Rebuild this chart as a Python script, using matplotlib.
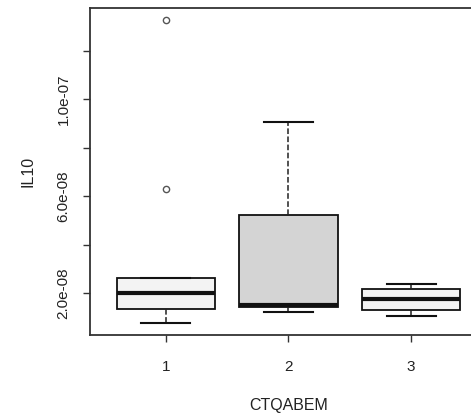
import matplotlib
matplotlib.use('Agg')
import matplotlib.pyplot as plt

plt.rcParams['font.family'] = ['Liberation Sans', 'DejaVu Sans']

# Werte aus dem Bild geschaetzt
gruppen = ['1', '2', '3']
q1 = [1.34e-8, 1.42e-8, 1.30e-8]
median = [2.00e-8, 1.50e-8, 1.75e-8]
q3 = [2.62e-8, 5.22e-8, 2.17e-8]
whis_lo = [0.76e-8, 1.21e-8, 1.05e-8]
whis_hi = [2.62e-8, 9.07e-8, 2.37e-8]
ausreisser = [[6.30e-8, 13.28e-8], [], []]
farben = ['#f3f3f3', '#d4d4d4', '#f3f3f3']

y_ticks = [2e-8, 4e-8, 6e-8, 8e-8, 1e-7, 1.2e-7]
y_labels = ['2.0e-08', '', '6.0e-08', '', '1.0e-07', '']

stats = []
for i in range(len(gruppen)):
    stats.append(dict(label=gruppen[i], q1=q1[i], med=median[i], q3=q3[i],
                      whislo=whis_lo[i], whishi=whis_hi[i], fliers=ausreisser[i]))

fig = plt.figure(figsize=(4.71, 4.2), dpi=100)
ax = fig.add_axes([0.191, 0.2024, 0.843, 0.7786])

bp = ax.bxp(stats, positions=[1, 2, 3], widths=0.8, patch_artist=True,
            boxprops=dict(linewidth=1.3, edgecolor='#111111'),
            medianprops=dict(linewidth=3, color='#111111'),
            whiskerprops=dict(linewidth=1.1, linestyle='--', color='#222222'),
            capprops=dict(linewidth=1.5, color='#111111'),
            flierprops=dict(marker='o', markersize=4.5, markerfacecolor='none',
                            markeredgecolor='#555555', markeredgewidth=1.0),
            capwidths=0.4)
for patch, f in zip(bp['boxes'], farben):
    patch.set_facecolor(f)

ax.set_xlim(0.38, 3.62)
ax.set_ylim(0.26e-8, 13.78e-8)
ax.set_yticks(y_ticks)
ax.set_yticklabels(y_labels, rotation=90, va='center', fontsize=11, color='#222222')
ax.set_xticks([1, 2, 3])
ax.set_xticklabels(gruppen, fontsize=11, color='#222222')
ax.tick_params(axis='both', length=5, width=1, color='#333333')
ax.tick_params(axis='x', pad=13)
ax.tick_params(axis='y', pad=9)
ax.set_xlabel('CTQABEM', fontsize=11.5, color='#222222', labelpad=17)
ax.set_ylabel('IL10', fontsize=11.5, color='#222222', labelpad=15)
for s in ax.spines.values():
    s.set_linewidth(1.3)
    s.set_color('#333333')

fig.savefig('out.png', dpi=100)
